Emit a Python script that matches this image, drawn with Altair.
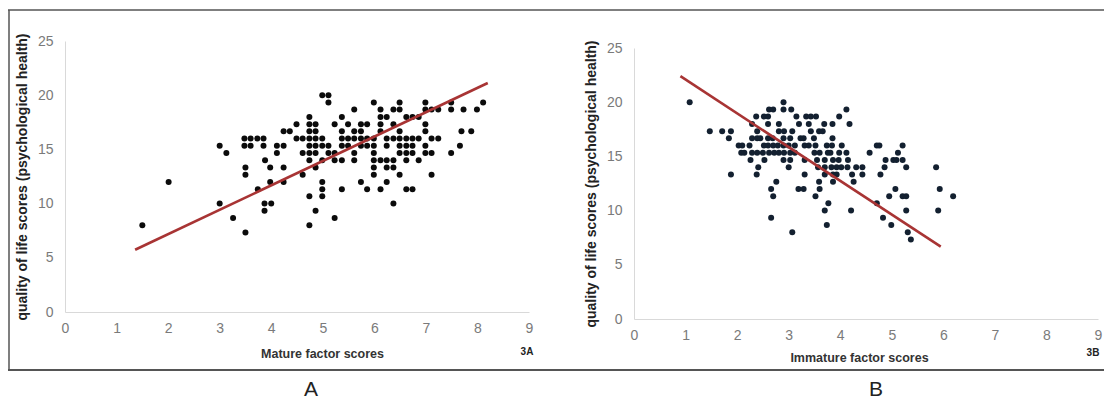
import altair as alt
import pandas as pd

# ---------------- data ----------------
# Panel A: mature factor scores vs psychological health (rows of equal y)
a_row_y = [20.0, 19.33, 18.67, 18.0, 17.33, 16.67, 16.0, 15.33, 14.67, 14.0,
           13.33, 12.67, 12.0, 11.33, 10.67, 10.0, 9.33, 8.67, 8.0, 7.33]
a_row_x = [
    [4.99, 5.11],
    [5.11, 5.99, 6.49, 6.99, 7.49, 8.11],
    [5.61, 6.12, 6.37, 6.49, 6.99, 7.11, 7.24, 7.49, 7.73, 7.99],
    [4.74, 5.37, 6.12, 6.24, 6.62, 6.74, 6.86],
    [4.49, 4.74, 4.86, 5.23, 5.49, 5.74, 5.86, 6.12, 6.37, 6.99],
    [4.24, 4.36, 4.74, 4.86, 5.37, 5.61, 5.74, 6.12, 6.49, 6.99, 7.69, 7.88],
    [3.48, 3.6, 3.73, 3.85, 4.49, 4.61, 4.74, 4.86, 4.99, 5.37, 5.49, 5.61,
     5.74, 5.86, 5.99, 6.24, 6.37, 6.49, 6.62, 6.74, 6.86, 7.11, 7.24],
    [3.0, 3.48, 3.6, 3.85, 4.11, 4.24, 4.74, 4.86, 4.99, 5.11, 5.37, 5.49,
     5.74, 5.86, 5.99, 6.24, 6.49, 6.62, 6.74, 6.99, 7.66],
    [3.13, 4.11, 4.61, 4.74, 4.86, 5.11, 5.23, 5.61, 5.99, 6.49, 6.62, 6.74,
     6.99, 7.11, 7.49],
    [3.88, 4.74, 4.99, 5.23, 5.37, 5.61, 5.99, 6.12, 6.24, 6.37, 6.62, 6.86],
    [3.5, 3.98, 4.24, 4.86, 5.99, 6.24, 6.37],
    [3.5, 4.61, 5.99, 6.49, 7.11],
    [2.01, 3.98, 4.24, 4.99, 5.74, 6.24],
    [3.74, 4.99, 5.37, 5.86, 6.12, 6.62, 6.74],
    [4.74, 4.99],
    [3.0, 3.87, 4.0, 6.37],
    [3.87, 4.86],
    [3.26, 5.23],
    [1.5, 4.74],
    [3.5],
]
a_fit_x = [1.36, 8.2]
a_fit_y = [5.74, 21.13]

# Panel B: immature factor scores vs psychological health
b_row_y = [20.0, 19.33, 18.67, 18.0, 17.33, 16.67, 16.0, 15.33, 14.67, 14.0,
           13.33, 12.67, 12.0, 11.33, 10.67, 10.0, 9.33, 8.67, 8.0, 7.33]
b_row_x = [
    [1.08, 2.9],
    [2.62, 2.7, 2.9, 3.05, 4.12],
    [2.37, 2.52, 2.6, 3.15, 3.34, 3.43, 3.53, 3.98],
    [2.29, 2.6, 2.81, 3.2, 3.39, 3.69, 3.85, 4.18],
    [1.47, 1.71, 1.88, 2.39, 2.81, 2.91, 3.07, 3.43, 3.59, 3.66],
    [1.84, 2.29, 2.39, 2.45, 2.6, 2.69, 2.9, 3.03, 3.23, 3.29, 3.49, 3.85],
    [2.03, 2.1, 2.24, 2.52, 2.6, 2.7, 2.79, 2.9, 3.0, 3.12, 3.31, 3.39, 3.52,
     3.74, 3.84, 4.03, 4.71, 4.76, 5.21],
    [2.08, 2.14, 2.29, 2.39, 2.5, 2.62, 2.72, 2.81, 2.91, 3.03, 3.12, 3.5,
     3.6, 3.76, 3.81, 3.98, 4.12, 4.57, 5.12],
    [2.26, 2.53, 2.9, 3.03, 3.31, 3.55, 3.7, 3.86, 3.97, 4.15, 4.88, 5.03,
     5.09, 5.21],
    [2.41, 3.0, 3.57, 3.7, 3.83, 3.93, 4.02, 4.14, 4.31, 4.43, 4.86, 5.28,
     5.86],
    [1.88, 2.38, 3.31, 3.7, 3.86, 3.93, 4.23, 4.43, 4.78],
    [2.76, 3.59, 3.86, 4.26],
    [2.66, 3.19, 3.29, 3.6, 5.07, 5.93],
    [2.7, 3.52, 4.95, 5.21, 5.28, 6.19],
    [3.77, 4.71],
    [3.7, 4.21, 5.28, 5.9],
    [2.66, 4.83],
    [3.74, 4.99],
    [3.07, 5.31],
    [5.37],
]
b_fit_x = [0.9, 5.95]
b_fit_y = [22.4, 6.67]

x_ticks = [0, 1, 2, 3, 4, 5, 6, 7, 8, 9]
y_ticks = [0, 5, 10, 15, 20, 25]
y_title = "quality of life scores (psychological health)"


def expand(rows_y, rows_x):
    xs, ys = [], []
    for yv, row in zip(rows_y, rows_x):
        for xv in row:
            xs.append(xv)
            ys.append(yv)
    return pd.DataFrame({"x": xs, "y": ys})


a_pts = expand(a_row_y, a_row_x)
b_pts = expand(b_row_y, b_row_x)
a_fit = pd.DataFrame({"x": a_fit_x, "y": a_fit_y})
b_fit = pd.DataFrame({"x": b_fit_x, "y": b_fit_y})

# ---------------- layout / style ----------------
W, H = 1096, 391
FONT = "Liberation Sans"


def panel(pts, fit, xr, yr, xoff, yoff, xtitle, tx, ty, color):
    xs = alt.Scale(domain=[0, 9], range=xr, nice=False, zero=False)
    ys = alt.Scale(domain=[0, 25], range=yr, nice=False, zero=False)
    xax = alt.Axis(orient="bottom", offset=xoff, values=x_ticks, title=xtitle,
                   ticks=False, grid=False, domainColor="#d9d9d9",
                   labelFlush=False, labelOverlap=False, labelPadding=9,
                   labelFont=FONT, labelFontSize=14, labelColor="#7a7a7a",
                   titleFont=FONT, titleFontSize=12.5, titleFontWeight="bold",
                   titleColor="#333333", titleX=tx, titleY=ty,
                   titleBaseline="middle", titleAlign="center")
    yax = alt.Axis(orient="left", offset=yoff, values=y_ticks, title=y_title,
                   ticks=False, grid=False, domainColor="#d9d9d9",
                   labelFlush=False, labelOverlap=False, labelPadding=12,
                   labelFont=FONT, labelFontSize=14, labelColor="#7a7a7a",
                   titleFont=FONT, titleFontSize=14, titleFontWeight="bold",
                   titleColor="#222222", titlePadding=8)
    p = alt.Chart(pts).mark_circle(size=36, color=color, opacity=1).encode(
        x=alt.X("x:Q", scale=xs, axis=xax),
        y=alt.Y("y:Q", scale=ys, axis=yax),
    )
    l = alt.Chart(fit).mark_line(color="#a83434", strokeWidth=2.6).encode(
        x=alt.X("x:Q", scale=xs, axis=xax),
        y=alt.Y("y:Q", scale=ys, axis=yax),
    )
    return alt.layer(p, l)


panel_a = panel(a_pts, a_fit, [57, 521], [304, 33], -(H - 304), -57,
                "Mature factor scores", 314, 41, "#0b0b0b")
panel_b = panel(b_pts, b_fit, [626, 1090], [311, 40], -(H - 311), -626,
                "Immature factor scores", 851, 38, "#132030")

one = pd.DataFrame({"k": [0]})
frame_top = alt.Chart(one).mark_rule(color="#555555", strokeWidth=1.5).encode(
    x=alt.value(0), x2=alt.value(W), y=alt.value(2))
frame_bottom = alt.Chart(one).mark_rule(color="#555555", strokeWidth=2).encode(
    x=alt.value(0), x2=alt.value(W), y=alt.value(362))
frame_left = alt.Chart(one).mark_rule(color="#555555", strokeWidth=1.5).encode(
    x=alt.value(1), y=alt.value(2), y2=alt.value(362))


def label(txt, x, y, size, weight, baseline="middle"):
    return alt.Chart(pd.DataFrame({"t": [txt]})).mark_text(
        font=FONT, fontSize=size, fontWeight=weight, color="#222222",
        baseline=baseline, align="center").encode(
        x=alt.value(x), y=alt.value(y), text="t:N")


chart = alt.layer(
    frame_top, frame_bottom, frame_left,
    panel_a, panel_b,
    label("3A", 519, 344, 10, "bold"),
    label("3B", 1085, 345, 10, "bold"),
    label("A", 303, 382, 21, "normal"),
    label("B", 868, 382, 21, "normal"),
).resolve_scale(x="independent", y="independent").properties(
    width=W, height=H, padding=0,
    autosize=alt.AutoSizeParams(type="none"),
).configure_view(stroke=None)

chart.save("out.html", embed_options={"renderer": "svg", "actions": False})
